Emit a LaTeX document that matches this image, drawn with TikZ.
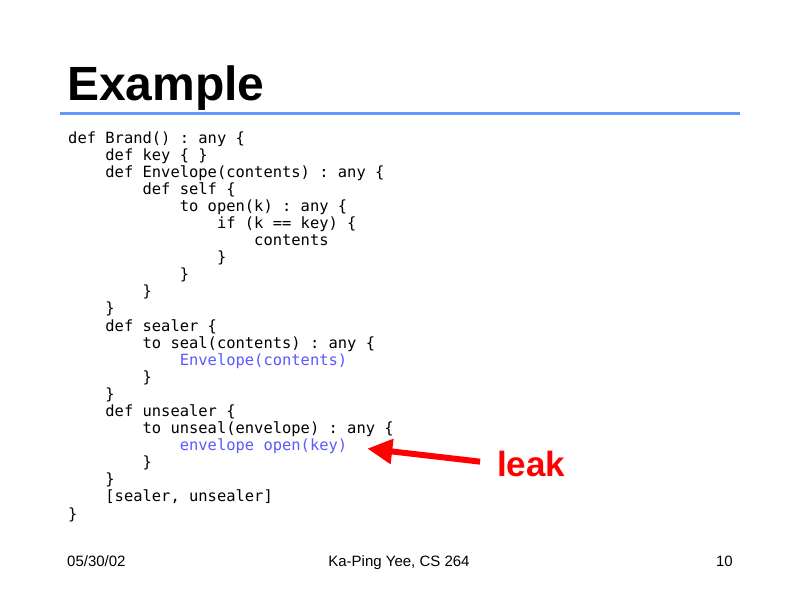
\documentclass[tikz,border=0pt]{standalone}
\usepackage{fontspec}
\setmainfont{Liberation Sans}
\setmonofont{DejaVu Sans Mono}
\usepackage{tikz}
\usetikzlibrary{arrows.meta}

\definecolor{rulebl}{RGB}{102,153,255}
\definecolor{codebl}{RGB}{90,90,255}
\definecolor{leakred}{RGB}{255,0,0}

\tikzset{
  codeline/.style={anchor=base west,inner sep=0pt,font=\fontsize{15.45}{17}\ttfamily},
  bluecode/.style={codeline,text=codebl},
  footer/.style={anchor=base,inner sep=0pt,font=\fontsize{15}{18}\selectfont},
  leakarrow/.style={draw=leakred,line width=6pt,-{Triangle[length=25pt,width=24pt]}}
}

\begin{document}
\begin{tikzpicture}[x=1pt,y=-1pt]
\fill[white] (0,0) rectangle (800,600);
\useasboundingbox (0,0) rectangle (800,600);
% title
\node[anchor=base west,inner sep=0pt,font=\fontsize{48}{56}\bfseries] (title) at (67,100) {Example};
\draw[rulebl,line width=3pt] (60,113) -- (740,113);
% code
\node[codeline] (brand) at (68,143) {def Brand() : any \{};
\node[codeline] (key) at (105.2,160.1) {def key \{ \}};
\node[codeline] (env) at (105.2,177.2) {def Envelope(contents) : any \{};
\node[codeline] (self) at (142.4,194.3) {def self \{};
\node[codeline] (open) at (179.6,211.4) {to open(k) : any \{};
\node[codeline] (iff) at (216.8,228.5) {if (k == key) \{};
\node[codeline] (cont) at (254,245.5) {contents};
\node[codeline] (c8) at (216.8,262.6) {\}};
\node[codeline] (c9) at (179.6,279.7) {\}};
\node[codeline] (c10) at (142.4,296.8) {\}};
\node[codeline] (c11) at (105.2,313.9) {\}};
\node[codeline] (sealer) at (105.2,331.0) {def sealer \{};
\node[codeline] (seal) at (142.4,348.1) {to seal(contents) : any \{};
\node[bluecode] (mkenv) at (179.6,365.2) {Envelope(contents)};
\node[codeline] (c15) at (142.4,382.3) {\}};
\node[codeline] (c16) at (105.2,399.4) {\}};
\node[codeline] (unsealer) at (105.2,416.4) {def unsealer \{};
\node[codeline] (unseal) at (142.4,433.5) {to unseal(envelope) : any \{};
\node[bluecode] (envopen) at (179.6,450.6) {envelope open(key)};
\node[codeline] (c20) at (142.4,467.7) {\}};
\node[codeline] (c21) at (105.2,484.8) {\}};
\node[codeline] (pair) at (105.2,501.9) {[sealer, unsealer]};
\node[codeline] (c23) at (68,519.0) {\}};
% leak
\node[anchor=base west,inner sep=1pt,text=leakred,font=\fontsize{35}{40}\bfseries] (leak) at (496,476) {leak};
\draw[leakarrow,shorten <=16pt,shorten >=20pt] (leak.west) -- (envopen.east);
% footer
\node[footer,anchor=base west] (date) at (67,566) {05/30/02};
\node[footer] (author) at (399,566) {Ka-Ping Yee, CS 264};
\node[footer,anchor=base east] (page) at (733,566) {10};
\end{tikzpicture}
\end{document}
